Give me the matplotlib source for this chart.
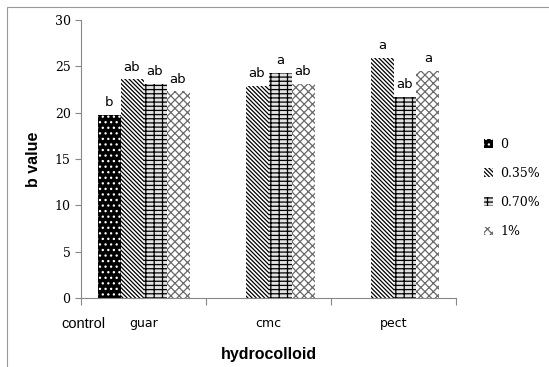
import numpy as np
import matplotlib
matplotlib.use("Agg")
import matplotlib.pyplot as plt
from matplotlib.patches import Rectangle

### data
groups = ["guar", "cmc", "pect"]
series = ["0", "0.35%", "0.70%", "1%"]
control = [19.8, np.nan, np.nan]
conc035 = [23.6, 22.9, 25.9]
conc070 = [23.1, 24.3, 21.7]
conc1 = [22.3, 23.1, 24.5]
letters_control = ["b", "", ""]
letters035 = ["ab", "ab", "a"]
letters070 = ["ab", "a", "ab"]
letters1 = ["ab", "ab", "a"]
yticks = [0, 5, 10, 15, 20, 25, 30]

plt.rcParams["hatch.linewidth"] = 0.9

fig = plt.figure(figsize=(5.49, 3.67), dpi=100)
ax = fig.add_axes([81/549, 1-298/367, (456-81)/549, (298-20)/367])

x = np.arange(len(groups))
w = 0.184
styles = [
    dict(facecolor="black", edgecolor="white", hatch="...", linewidth=0),
    dict(facecolor="white", edgecolor="black", hatch="\\" * 8, linewidth=0),
    dict(facecolor="#e2e2e2", edgecolor="black", hatch="----||", linewidth=0),
    dict(facecolor="white", edgecolor="#6a6a6a", hatch="x" * 4, linewidth=0),
]
allvals = [control, conc035, conc070, conc1]
allletters = [letters_control, letters035, letters070, letters1]

handles = []
for i, (vals, labs, st) in enumerate(zip(allvals, allletters, styles)):
    pos = x + (i - 1.5) * w
    b = ax.bar(pos, vals, width=w, label=series[i], **st)
    handles.append(b)
    for p, v, t in zip(pos, vals, labs):
        if t and not np.isnan(v):
            ax.text(p, v + 0.6, t, ha="center", va="bottom",
                    fontsize=9.5, family="DejaVu Sans")

ax.set_xlim(-0.5, len(groups) - 0.5)
ax.set_ylim(0, 30)
ax.set_yticks(yticks)
ax.set_yticklabels([str(t) for t in yticks], family="DejaVu Serif", fontsize=9)
ax.set_xticks(np.arange(len(groups) + 1) - 0.5)
ax.set_xticklabels([])
ax.tick_params(axis="both", color="#888888", length=4, width=0.8)
ax.tick_params(axis="x", length=5)

for s in ["top", "right"]:
    ax.spines[s].set_visible(False)
for s in ["left", "bottom"]:
    ax.spines[s].set_color("#888888")
    ax.spines[s].set_linewidth(0.8)

for xi, g in zip(x, groups):
    ax.text(xi, -2.8, g, ha="center", va="center", fontsize=9,
            family="DejaVu Sans")
ax.text(-0.48, -2.8, "control", ha="center", va="center", fontsize=10.5,
        family="Liberation Sans")

ax.set_ylabel("b value", fontsize=11.5, fontweight="bold", family="Liberation Sans",
              labelpad=10)
ax.set_xlabel("hydrocolloid", fontsize=11.5, fontweight="bold",
              family="Liberation Sans")
ax.xaxis.set_label_coords(0.5, -0.175)

leg = fig.legend(handles=handles, labels=series, loc="center left",
                 bbox_to_anchor=(473/549, 1-188/367), frameon=False,
                 prop={"family": "DejaVu Serif", "size": 9},
                 handlelength=0.7, handleheight=0.7, labelspacing=1.3,
                 handletextpad=0.6)

fig.patches.append(Rectangle((7/549, -0.1), 1.2, 1-7/367+0.1, transform=fig.transFigure,
                             fill=False, edgecolor="#999999", linewidth=0.8))

fig.savefig("out.png", dpi=100)
